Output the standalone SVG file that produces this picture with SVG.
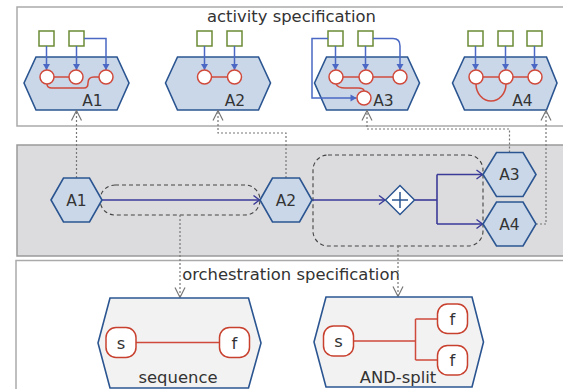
<svg xmlns="http://www.w3.org/2000/svg" width="563" height="389" viewBox="0 0 563 389">
<style>
.panel{fill:#fff;stroke:#aaa;stroke-width:1.5}
.mid{fill:#dcdcde;stroke:#9a9a9a;stroke-width:1.5}
.hex{fill:#c9d7e9;stroke:#2b5591;stroke-width:1.6}
.ohex{fill:#f2f2f2;stroke:#2b5591;stroke-width:1.6}
.sq{fill:#fff;stroke:#6b8a36;stroke-width:1.5}
.cir{fill:#fff;stroke:#d04a3c;stroke-width:1.5}
.red{fill:none;stroke:#d04a3c;stroke-width:1.5}
.blue{fill:none;stroke:#4a68c4;stroke-width:1.5;marker-end:url(#ba)}
.edge{fill:none;stroke:#3a3a98;stroke-width:1.6}
.dash{fill:none;stroke:#444;stroke-width:1.1;stroke-dasharray:4,3}
.dot{fill:none;stroke:#777;stroke-width:1.2;stroke-dasharray:2,2;marker-end:url(#ga)}
.rr{fill:#fff;stroke:#c8412f;stroke-width:1.5}
text{font-family:"DejaVu Sans",Verdana,sans-serif;fill:#333}
.t{font-size:16.4px}
.l{font-size:15.5px;text-anchor:middle}
.m{font-size:16.4px;text-anchor:middle}
</style>
<defs>
<marker id="ba" markerUnits="userSpaceOnUse" markerWidth="8" markerHeight="8" refX="0" refY="0" orient="auto" overflow="visible"><path d="M-6,-3.5 L0,0 L-6,3.5 Z" fill="#4a68c4"/></marker>
<marker id="oa" markerUnits="userSpaceOnUse" markerWidth="8" markerHeight="8" refX="0" refY="0" orient="auto" overflow="visible"><path d="M-6,-4.5 L0,0 L-6,4.5" fill="none" stroke="#3a3a98" stroke-width="1.4"/></marker>
<marker id="ga" markerUnits="userSpaceOnUse" markerWidth="12" markerHeight="12" refX="0" refY="0" orient="auto" overflow="visible"><path d="M-10,-5 L0,0 L-10,5" fill="none" stroke="#777" stroke-width="1.2"/></marker>
</defs>

<g id="panels">
<rect class="panel" x="17" y="7" width="560" height="119"/>
<rect class="mid" x="17" y="145" width="560" height="111"/>
<rect class="panel" x="16" y="260.5" width="560" height="140"/>
<text class="t" x="291.5" y="22" text-anchor="middle">activity specification</text>
<text class="t" x="291" y="280" text-anchor="middle">orchestration specification</text>
</g>

<g id="act-A1">
<polygon class="hex" points="24,83 36,57 117,57 129,83 117,110 36,110"/>
<rect class="sq" x="39" y="31" width="15" height="15"/>
<rect class="sq" x="69" y="31" width="15" height="15"/>
<path class="blue" d="M46.5,46 V70"/>
<path class="blue" d="M76.5,46 V70"/>
<path class="blue" d="M84,38.5 H106 V70"/>
<path class="red" d="M47,77 H76"/>
<path class="red" d="M47,84 Q47,88 52,88 L84,88 Q88,88 88,83 Q88,77 94,77 L99,77"/>
<circle class="cir" cx="47" cy="77" r="7"/>
<circle class="cir" cx="76" cy="77" r="7"/>
<circle class="cir" cx="106" cy="77" r="7"/>
<text class="l" x="92.5" y="106">A1</text>
</g>

<g id="act-A2">
<polygon class="hex" points="165.5,83 177.5,57 258.5,57 270.5,83 258.5,110 177.5,110"/>
<rect class="sq" x="197" y="31" width="15" height="15"/>
<rect class="sq" x="227" y="31" width="15" height="15"/>
<path class="blue" d="M204.5,46 V70"/>
<path class="blue" d="M234.5,46 V70"/>
<path class="red" d="M204.5,77 H234.5"/>
<circle class="cir" cx="204.5" cy="77" r="7"/>
<circle class="cir" cx="234.5" cy="77" r="7"/>
<text class="l" x="235" y="106">A2</text>
</g>

<g id="act-A3">
<polygon class="hex" points="314.5,83 326.5,57 407.5,57 419.5,83 407.5,110 326.5,110"/>
<rect class="sq" x="328" y="31" width="15" height="15"/>
<rect class="sq" x="358" y="31" width="15" height="15"/>
<path class="blue" d="M335.5,46 V70"/>
<path class="blue" d="M365.5,46 V70"/>
<path class="blue" d="M373,38.5 H393 Q400,38.5 400,46 V70"/>
<path class="blue" d="M328,38.5 H312 V98 H356.5"/>
<path class="red" d="M336,77 H400"/>
<path class="red" d="M336,84 Q338,88 345,88 L358,88 Q364,88 364,91"/>
<circle class="cir" cx="336" cy="77" r="7"/>
<circle class="cir" cx="366" cy="77" r="7"/>
<circle class="cir" cx="400" cy="77" r="7"/>
<circle class="cir" cx="364" cy="98" r="7"/>
<text class="l" x="383.5" y="106">A3</text>
</g>

<g id="act-A4">
<polygon class="hex" points="452.5,83 464.5,57 546.5,57 557,83 546.5,110 464.5,110"/>
<rect class="sq" x="468" y="31" width="15" height="15"/>
<rect class="sq" x="498" y="31" width="15" height="15"/>
<rect class="sq" x="527" y="31" width="15" height="15"/>
<path class="blue" d="M475.5,46 V70"/>
<path class="blue" d="M505.5,46 V70"/>
<path class="blue" d="M534.5,46 V70"/>
<path class="red" d="M476,77 H535"/>
<path class="red" d="M476,84 A15,17 0 0 0 506,84"/>
<circle class="cir" cx="476" cy="77" r="7"/>
<circle class="cir" cx="506" cy="77" r="7"/>
<circle class="cir" cx="535" cy="77" r="7"/>
<text class="l" x="522.5" y="106">A4</text>
</g>

<g id="connectors">
<rect class="dash" x="100" y="185" width="160" height="30" rx="15"/>
<rect class="dash" x="313" y="155" width="170" height="91" rx="15"/>
<path class="edge" d="M102,200 H259.5" marker-end="url(#oa)"/>
<path class="edge" d="M312,200 H385" marker-end="url(#oa)"/>
<path class="edge" d="M414.5,200 H437"/>
<path class="edge" d="M437,174.5 V224"/>
<path class="edge" d="M437,174.5 H482.5" marker-end="url(#oa)"/>
<path class="edge" d="M437,224 H482.5" marker-end="url(#oa)"/>
<path class="dot" d="M76.5,178 V110.5"/>
<path class="dot" d="M286,178 V133 H218 V110.5"/>
<path class="dot" d="M509.5,152.5 V129 H367 V110.5"/>
<path class="dot" d="M536,224 H546 V110.5"/>
<path class="dot" d="M180,215 V297.5"/>
<path class="dot" d="M398,246 V296.5"/>
</g>

<g id="orch-A1">
<polygon class="hex" points="51,200 63.5,178 89.5,178 102,200 89.5,222 63.5,222"/>
<text class="l" x="76.5" y="205.5">A1</text>
</g>
<g id="orch-A2">
<polygon class="hex" points="260,200 272.5,178 299.5,178 312,200 299.5,222 272.5,222"/>
<text class="l" x="286" y="205.5">A2</text>
</g>
<g id="orch-A3">
<polygon class="hex" points="483,174.5 496.5,152.5 523,152.5 536,174.5 523,196.5 496.5,196.5"/>
<text class="l" x="509.5" y="180">A3</text>
</g>
<g id="orch-A4">
<polygon class="hex" points="483,224 496.5,202 523,202 536,224 523,246 496.5,246"/>
<text class="l" x="509.5" y="229.5">A4</text>
</g>
<g id="and-gateway">
<polygon points="385.5,200 400,185.5 414.5,200 400,214.5" fill="#fff" stroke="#2b5591" stroke-width="1.5"/>
<path d="M392,200 H408 M400,192 V208" stroke="#2b5591" stroke-width="1.5"/>
</g>

<g id="sequence">
<polygon class="ohex" points="98,343 110,298 248.5,298 261,343 248.5,388 110,388"/>
<path class="red" d="M136,342.5 H219.5"/>
<rect class="rr" x="106" y="327.5" width="30" height="30" rx="10"/>
<rect class="rr" x="219.5" y="327.5" width="30" height="30" rx="10"/>
<text class="m" x="121" y="348.5">s</text>
<text class="m" x="234.5" y="348.5">f</text>
<text class="m" x="178" y="383">sequence</text>
</g>

<g id="and-split">
<polygon class="ohex" points="314,342 326,297 472,297 483.5,342 472,387 326,387"/>
<path class="red" d="M353.5,341 H415.5 M415.5,319 V360 M415.5,319 H437.5 M415.5,360 H437.5"/>
<rect class="rr" x="323.5" y="326" width="30" height="30" rx="10"/>
<rect class="rr" x="437.5" y="304" width="30" height="29.5" rx="10"/>
<rect class="rr" x="437.5" y="345.5" width="30" height="29.5" rx="10"/>
<text class="m" x="338.5" y="347">s</text>
<text class="m" x="452.5" y="324.5">f</text>
<text class="m" x="452.5" y="366">f</text>
<text class="m" x="398" y="383">AND-split</text>
</g>
</svg>
